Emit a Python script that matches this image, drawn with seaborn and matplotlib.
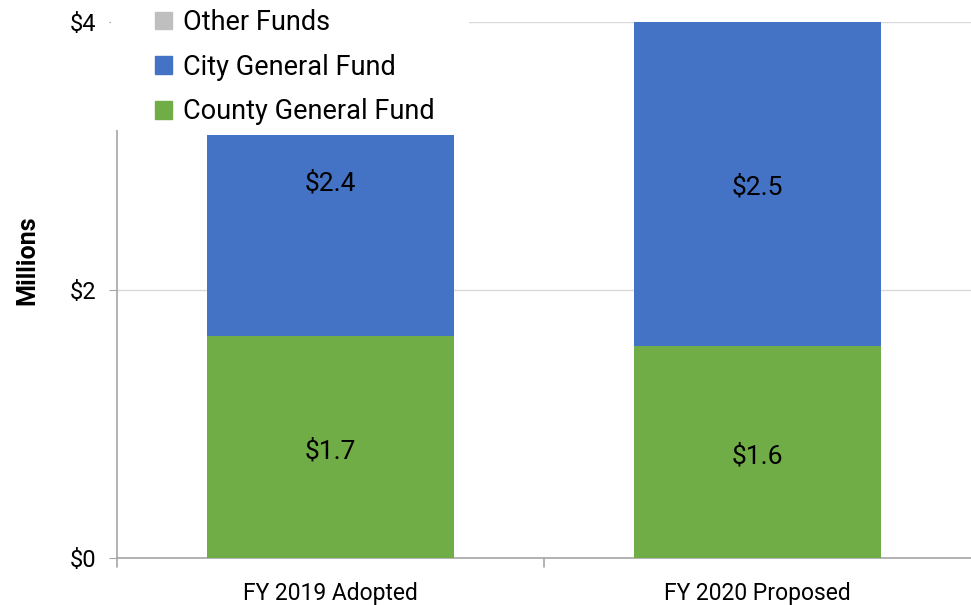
import numpy as np
import pandas as pd
import seaborn as sns
import matplotlib.pyplot as plt
from matplotlib.patches import Patch, Rectangle

# values in $ millions
years = ["FY 2019 Adopted", "FY 2020 Proposed"]
county_fund = [1.66, 1.58]
city_fund = [1.50, 2.50]          # drawn height of blue segment
county_labels = [1.7, 1.6]
city_labels = [2.4, 2.5]
legend_names = ["Other Funds", "City General Fund", "County General Fund"]

GREEN = "#70AD47"
BLUE = "#4472C4"
GRAY = "#BFBFBF"

sns.set_style("white")
plt.rcParams["font.family"] = ["Roboto", "DejaVu Sans"]
plt.rcParams["text.color"] = "black"
plt.rcParams["axes.labelcolor"] = "black"
plt.rcParams["xtick.color"] = "black"
plt.rcParams["ytick.color"] = "black"

df = pd.DataFrame({"year": years, "county": county_fund, "city": city_fund})
df["total"] = df["county"] + df["city"]

fig = plt.figure(figsize=(9.71, 6.05), dpi=100)
ax = fig.add_axes([0.1205, 0.0777, 0.8795, 0.8859])

# stacked: draw totals first, then county over the bottom
sns.barplot(data=df, x="year", y="total", color=BLUE, width=0.578, saturation=1,
            linewidth=0, ax=ax, zorder=2)
sns.barplot(data=df, x="year", y="county", color=GREEN, width=0.578, saturation=1,
            linewidth=0, ax=ax, zorder=3)

ax.set_ylim(0, 4)
ax.set_xlim(-0.5, 1.5)
ax.set_yticks([0, 2, 4])
ax.set_yticklabels(["$0", "$2", "$4"], fontsize=17)
ax.tick_params(axis="x", labelsize=16.5, length=0, pad=17, colors="black")
ax.tick_params(axis="y", length=6, color="#A6A6A6", pad=9, left=True, labelcolor="black")
ax.set_xlabel("")
ax.set_ylabel("Millions", fontsize=18, fontweight="bold")
ax.yaxis.set_label_coords(-0.091, 0.555)
ax.yaxis.grid(True, color="#D9D9D9", linewidth=1, zorder=0)
ax.set_axisbelow(True)

for s in ["top", "right"]:
    ax.spines[s].set_visible(False)
for s in ["left", "bottom"]:
    ax.spines[s].set_color("#A6A6A6")
    ax.spines[s].set_linewidth(1.2)

# category separator ticks on x axis
for xt in [-0.5, 0.5]:
    ax.plot([xt, xt], [0, -0.07], color="#A6A6A6", lw=1.2, clip_on=False)

for i in range(len(years)):
    ax.text(i, county_fund[i] / 2 - 0.03, f"${county_labels[i]:.1f}", ha="center", va="center",
            fontsize=19, color="black", zorder=5)
    ax.text(i, county_fund[i] + city_labels[i] / 2 - 0.06, f"${city_labels[i]:.1f}",
            ha="center", va="center", fontsize=19, color="black", zorder=5)

# white legend box that hides the top of the spine and gridline
ax.add_patch(Rectangle((-0.007, 0.799), 0.419, 0.3, transform=ax.transAxes,
                       facecolor="white", edgecolor="none", clip_on=False, zorder=8))

handles = [Patch(color=c) for c in [GRAY, BLUE, GREEN]]
leg = ax.legend(handles, legend_names, loc="upper left", bbox_to_anchor=(0.022, 1.0595),
                fontsize=19.5, frameon=False,
                handlelength=0.62, handleheight=0.62, handletextpad=0.42, labelspacing=0.65,
                borderpad=0.2)
leg.set_zorder(10)

fig.savefig("out.png", dpi=100)
